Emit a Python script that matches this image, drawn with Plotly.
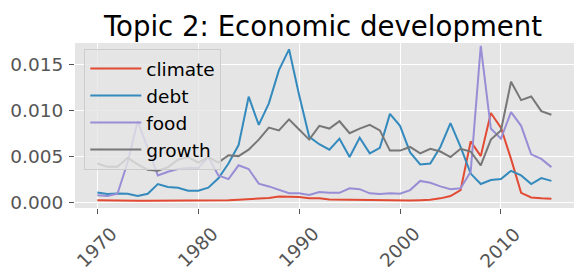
import plotly.graph_objects as go

years = list(range(1970, 2016))

climate = [0.0002, 0.00017, 0.00016, 0.00016, 0.00015, 0.00015, 0.00015, 0.00016, 0.00017, 0.00017,
           0.00016, 0.00016, 0.00018, 0.0002, 0.00026, 0.00031, 0.00037, 0.00044, 0.0006, 0.0006,
           0.00055, 0.0004, 0.0004, 0.00028, 0.00026, 0.00022, 0.0002, 0.0002, 0.00019, 0.00018,
           0.00017, 0.00017, 0.0002, 0.00024, 0.0004, 0.00065, 0.0013, 0.0066, 0.0050, 0.0097,
           0.0081, 0.0047, 0.0010, 0.0005, 0.0004, 0.00035]

debt = [0.00105, 0.00087, 0.00094, 0.0009, 0.00065, 0.0009, 0.00196, 0.00163, 0.00156, 0.00123,
        0.00123, 0.00156, 0.00258, 0.0042, 0.0062, 0.01147, 0.0084, 0.01075, 0.01437, 0.01663,
        0.01165, 0.0071, 0.0063, 0.0057, 0.0069, 0.0049, 0.0070, 0.0053, 0.0059, 0.0096,
        0.0083, 0.0054, 0.0041, 0.0042, 0.0060, 0.0086, 0.0060, 0.0031, 0.00196, 0.0024,
        0.0025, 0.0034, 0.0029, 0.00196, 0.0026, 0.0023]

food = [0.00073, 0.00065, 0.0009, 0.0043, 0.0088, 0.0058, 0.0029, 0.0033, 0.0036, 0.0037,
        0.0037, 0.0049, 0.0029, 0.0025, 0.0040, 0.0036, 0.0020, 0.0017, 0.0013, 0.00095,
        0.00095, 0.00076, 0.0011, 0.0010, 0.0010, 0.0015, 0.0014, 0.00095, 0.00087, 0.00095,
        0.0009, 0.0013, 0.0023, 0.0021, 0.0017, 0.0014, 0.0015, 0.0033, 0.0170, 0.0080,
        0.0069, 0.0098, 0.0083, 0.0052, 0.0047, 0.0038]

growth = [0.0042, 0.00385, 0.00385, 0.0048, 0.0041, 0.0035, 0.0034, 0.0038, 0.0046, 0.0049,
          0.0043, 0.0049, 0.0043, 0.0051, 0.0050, 0.0057, 0.0068, 0.0081, 0.0078, 0.0090,
          0.0079, 0.0068, 0.0083, 0.0080, 0.0088, 0.0075, 0.0080, 0.0084, 0.0078, 0.0056,
          0.0056, 0.0060, 0.0053, 0.0058, 0.0055, 0.0049, 0.0058, 0.0055, 0.0040, 0.0068,
          0.0078, 0.0131, 0.0111, 0.0115, 0.0099, 0.0095]

series_names = ["climate", "debt", "food", "growth"]
series_values = [climate, debt, food, growth]
series_colors = ["#E24A33", "#348ABD", "#988ED5", "#777777"]

x_ticks = [1970, 1980, 1990, 2000, 2010]
y_ticks = [0.0, 0.005, 0.010, 0.015]
y_tick_labels = ["0.000", "0.005", "0.010", "0.015"]

FONT = "DejaVu Sans"
TICK_COLOR = "#555555"

fig = go.Figure()
for name, vals, col in zip(series_names, series_values, series_colors):
    fig.add_trace(go.Scatter(x=years, y=vals, mode="lines", name=name,
                             legendgroup=name,
                             line=dict(color=col, width=2)))

annotations = []
for yr in x_ticks:
    annotations.append(dict(text=str(yr), x=yr, xref="x", y=0, yref="paper",
                            yshift=-39, xshift=-1, textangle=-45, showarrow=False,
                            xanchor="center", yanchor="middle",
                            font=dict(family=FONT, size=18.5, color=TICK_COLOR)))

fig.update_layout(
    width=574, height=270,
    margin=dict(l=75, r=0, t=43, b=62),
    paper_bgcolor="white",
    plot_bgcolor="#E5E5E5",
    font=dict(family=FONT, size=18.5, color=TICK_COLOR),
    title=dict(text="Topic 2: Economic development", x=0.5627, xanchor="center",
               y=0.94, yanchor="top", yref="container",
               font=dict(family=FONT, size=27.6, color="#000000")),
    showlegend=True,
    legend=dict(x=0.0186, y=0.964, xanchor="left", yanchor="top",
                bgcolor="rgba(229,229,229,0.8)", bordercolor="#CCCCCC", borderwidth=1,
                font=dict(family=FONT, size=18.5, color="#000000"),
                traceorder="grouped", tracegroupgap=0, itemwidth=51),
    annotations=annotations,
)

fig.update_xaxes(range=[1967.79, 2017.24], tickvals=x_ticks, showticklabels=False,
                 ticks="outside", ticklen=5, tickcolor=TICK_COLOR, tickwidth=1,
                 showgrid=True, gridcolor="white", gridwidth=1, zeroline=False,
                 showline=False)
fig.update_yaxes(range=[-0.00065, 0.01732], tickvals=y_ticks, ticktext=y_tick_labels,
                 ticks="outside", ticklen=5, tickcolor=TICK_COLOR, tickwidth=1,
                 ticklabelstandoff=2,
                 tickfont=dict(family=FONT, size=18.5, color=TICK_COLOR),
                 showgrid=True, gridcolor="white", gridwidth=1, zeroline=False,
                 showline=False)

fig.write_html("out.html", config={"displayModeBar": False},
               post_script="document.body.style.margin='0';document.body.style.padding='0';")
